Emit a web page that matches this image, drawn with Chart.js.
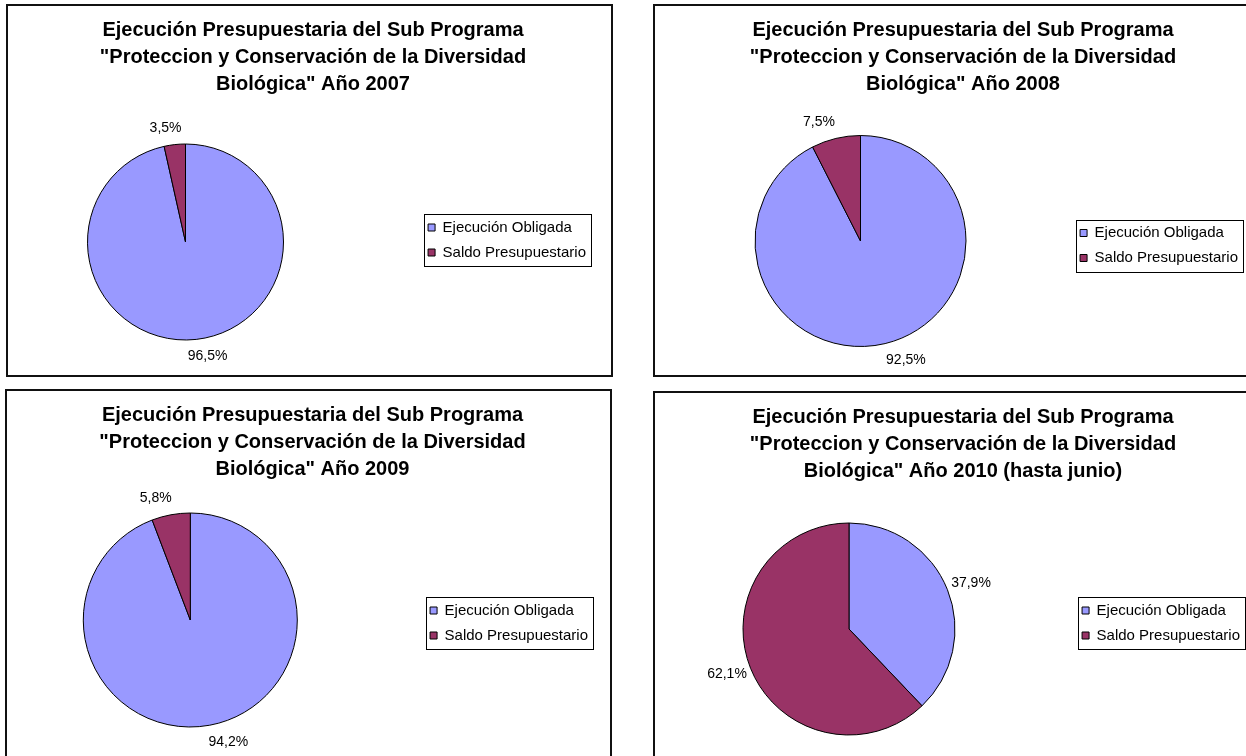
<!DOCTYPE html>
<html>
<head>
<meta charset="utf-8">
<script src="https://cdn.jsdelivr.net/npm/chart.js@4.4.1/dist/chart.umd.min.js"></script>
<style>
html,body{margin:0;padding:0;background:#fff;overflow:hidden;width:1246px;height:756px;position:relative;}
.panel{position:absolute;box-sizing:border-box;border:2px solid #111;background:#fff;overflow:hidden;}
.panel canvas{position:absolute;left:0;top:0;}
</style>
</head>
<body>
<div class="panel" style="left:6px;top:4px;width:607px;height:373px"><canvas id="c0" width="603" height="369"></canvas></div>
<div class="panel" style="left:653px;top:4px;width:620px;height:373px"><canvas id="c1" width="616" height="369"></canvas></div>
<div class="panel" style="left:5px;top:389px;width:607px;height:371px"><canvas id="c2" width="603" height="367"></canvas></div>
<div class="panel" style="left:653px;top:391px;width:620px;height:371px"><canvas id="c3" width="616" height="367"></canvas></div>
<script>
// ---- data ----
const categories = ['Ejecución Obligada', 'Saldo Presupuestario'];
const years = ['2007', '2008', '2009', '2010 (hasta junio)'];
const ejecucionObligada = [96.5, 92.5, 94.2, 37.9];
const saldoPresupuestario = [3.5, 7.5, 5.8, 62.1];
const titleLine1 = 'Ejecución Presupuestaria del Sub Programa';
const titleLine2 = '"Proteccion y Conservación de la Diversidad';
const titleLine3Prefix = 'Biológica" Año ';

// ---- styles / layout ----
const sliceColors = ['#9999FF', '#993366'];
const FONT = '"Liberation Sans", Arial, sans-serif';
const layoutCfg = [
  {cx: 177.5, cy: 236, r: 98, padL: 22, padR: 15, titlePadBottom: 7.5},
  {cx: 205.5, cy: 235, r: 105.5, padL: 23, padR: 23, titlePadBottom: 18.5},
  {cx: 183.3, cy: 229, r: 107, padL: 20, padR: 12, titlePadBottom: 5.5},
  {cx: 194, cy: 236, r: 106, padL: 21, padR: 21, titlePadBottom: 1.5}
];

// place the pie area where the original has it
const piePlacement = {
  id: 'piePlacement',
  afterLayout(chart) {
    const o = chart.options.plugins.piePlacement;
    const a = chart.chartArea;
    a.left = o.cx - o.r; a.right = o.cx + o.r;
    a.top = o.cy - o.r; a.bottom = o.cy + o.r;
    a.width = 2 * o.r; a.height = 2 * o.r;
  }
};

// border box around the legend
const legendFrame = {
  id: 'legendFrame',
  afterDraw(chart) {
    const lg = chart.legend;
    if (!lg || !lg.legendHitBoxes || !lg.legendHitBoxes.length) return;
    let l = Infinity, t = Infinity, r = -Infinity, b = -Infinity;
    lg.legendHitBoxes.forEach(h => {
      l = Math.min(l, h.left); t = Math.min(t, h.top);
      r = Math.max(r, h.left + h.width); b = Math.max(b, h.top + h.height);
    });
    const ctx = chart.ctx;
    ctx.save();
    ctx.strokeStyle = '#000';
    ctx.lineWidth = 1;
    ctx.strokeRect(Math.round(l - 4) + 0.5, Math.round(t - 6) + 0.5, Math.round(r - l + 9), Math.round(b - t + 12));
    ctx.restore();
  }
};

// percentage labels outside the slices
const outsideLabels = {
  id: 'outsideLabels',
  afterDatasetsDraw(chart) {
    const ctx = chart.ctx;
    const meta = chart.getDatasetMeta(0);
    const values = chart.data.datasets[0].data;
    ctx.save();
    ctx.font = '14px ' + FONT;
    ctx.fillStyle = '#000';
    ctx.textAlign = 'center';
    ctx.textBaseline = 'middle';
    meta.data.forEach((arc, i) => {
      const p = arc.getProps(['x', 'y', 'startAngle', 'endAngle', 'outerRadius'], true);
      const mid = (p.startAngle + p.endAngle) / 2;
      const dx = Math.cos(mid), dy = Math.sin(mid);
      const txt = values[i].toFixed(1).replace('.', ',') + '%';
      const w = ctx.measureText(txt).width;
      const px = p.x + (p.outerRadius + 4) * dx;
      const py = p.y + (p.outerRadius + 4) * dy;
      const tx = px + Math.sign(dx) * Math.min(1, 5 * Math.abs(dx)) * w / 2;
      const ty = py + dy * 13;
      ctx.fillText(txt, tx, ty);
    });
    ctx.restore();
  }
};

years.forEach((year, k) => {
  const L = layoutCfg[k];
  new Chart(document.getElementById('c' + k), {
    type: 'pie',
    data: {
      labels: categories,
      datasets: [{
        data: [ejecucionObligada[k], saldoPresupuestario[k]],
        backgroundColor: sliceColors,
        borderColor: '#000',
        borderWidth: 1,
        radius: L.r
      }]
    },
    options: {
      responsive: false,
      animation: false,
      events: [],
      layout: {padding: {left: L.padL, right: L.padR, top: 0, bottom: 0}},
      plugins: {
        piePlacement: {cx: L.cx, cy: L.cy, r: L.r},
        title: {
          display: true,
          text: [titleLine1, titleLine2, titleLine3Prefix + year],
          color: '#000',
          font: {family: FONT, size: 20, weight: 'bold', lineHeight: '27px'},
          padding: {top: 10.5, bottom: L.titlePadBottom}
        },
        legend: {
          display: true,
          position: 'right',
          align: 'center',
          fullSize: false,
          labels: {
            color: '#000',
            font: {family: FONT, size: 15},
            boxWidth: 7,
            boxHeight: 7,
            padding: 10
          }
        },
        tooltip: {enabled: false}
      }
    },
    plugins: [piePlacement, legendFrame, outsideLabels]
  });
});
</script>
</body>
</html>
